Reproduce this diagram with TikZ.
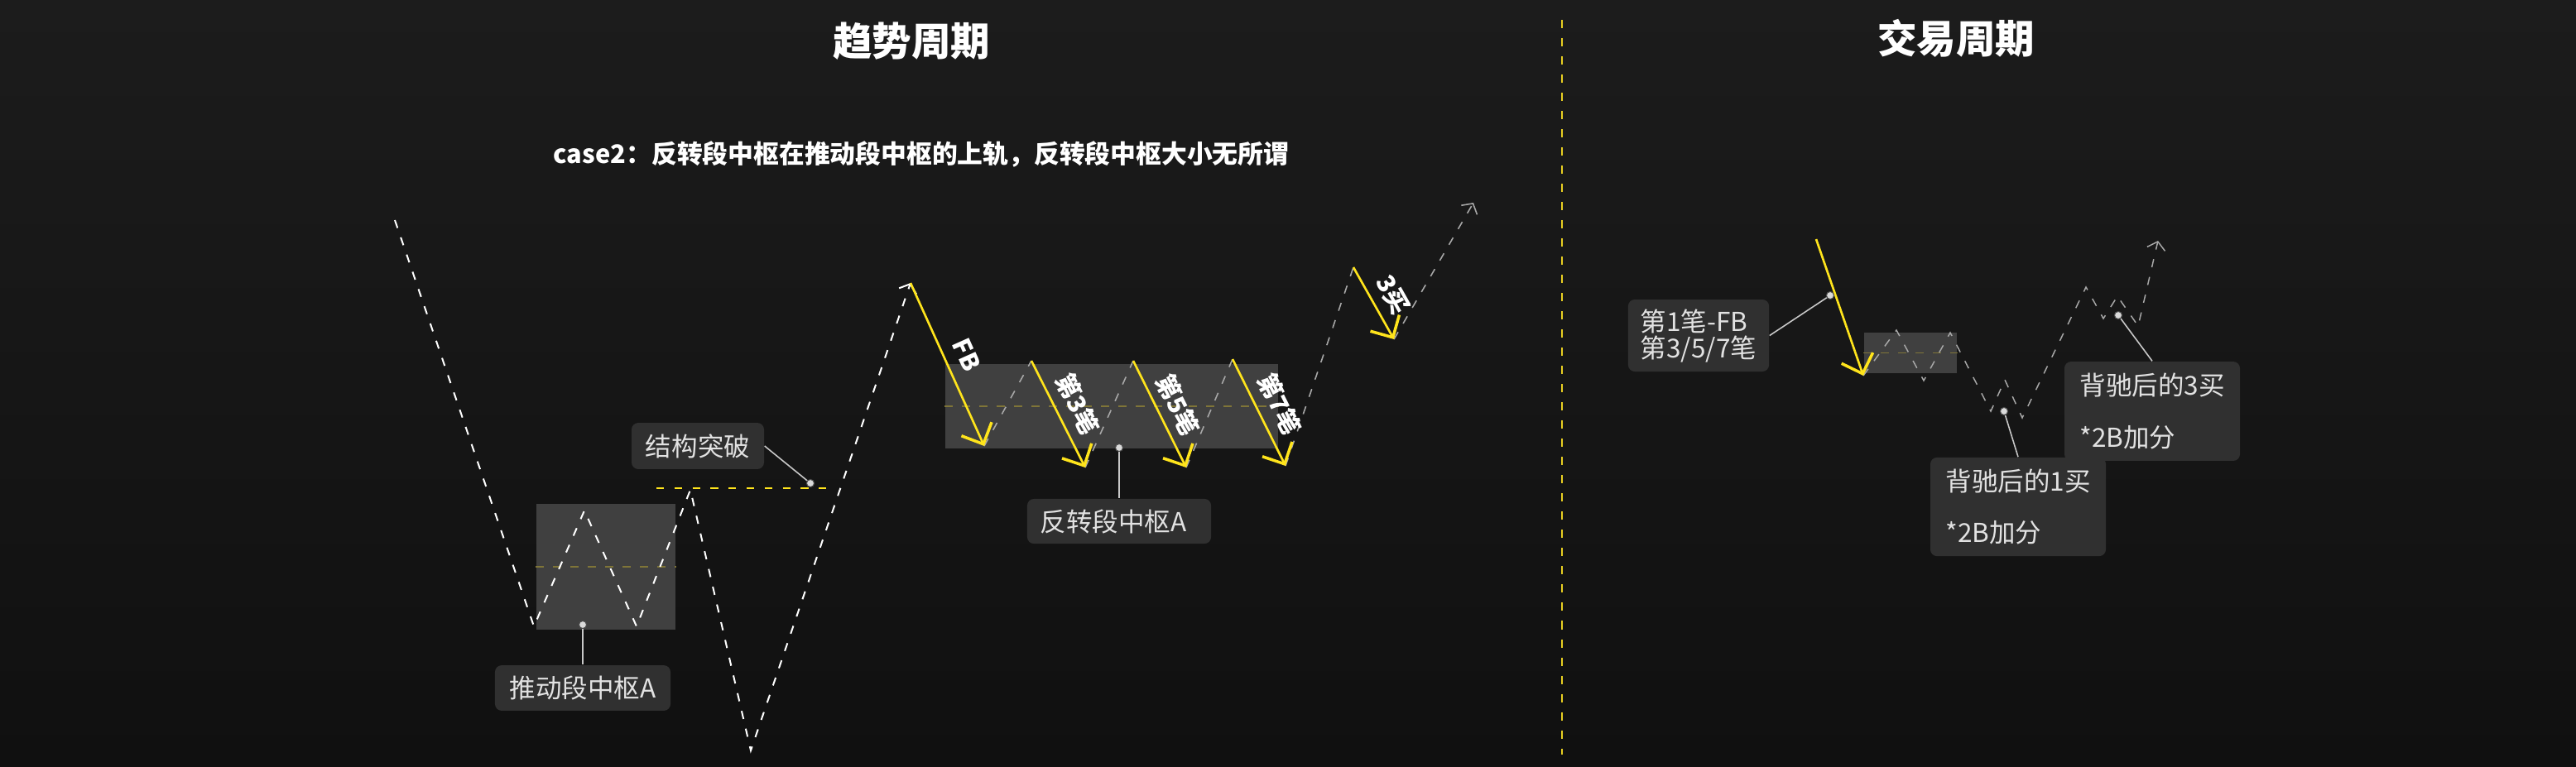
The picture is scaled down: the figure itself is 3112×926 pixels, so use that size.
\documentclass[tikz,border=0pt]{standalone}
\usepackage{fontspec}
\setmainfont{Noto Sans CJK SC}
\usetikzlibrary{arrows.meta}
\definecolor{bgtop}{HTML}{1C1C1C}
\definecolor{bgbot}{HTML}{101010}
\definecolor{zhong}{HTML}{404040}
\definecolor{olive}{HTML}{7F7538}
\definecolor{ylw}{HTML}{FFE41C}
\definecolor{divy}{HTML}{E8CF22}
\definecolor{lblfill}{HTML}{303030}
\definecolor{lbltext}{HTML}{E2E2E2}
\definecolor{dashgray}{HTML}{A8A8A8}
\definecolor{dotc}{HTML}{DADADA}
\definecolor{connc}{HTML}{C8C8C8}
\begin{document}
\begin{tikzpicture}[x=0.01cm,y=-0.01cm,
  wdash/.style={draw=white, line width=0.57pt, dash pattern=on 2.85pt off 3.41pt},
  gdash/.style={draw=dashgray, line width=0.45pt, dash pattern=on 2.85pt off 3.41pt},
  middash/.style={draw=olive, line width=0.5pt, dash pattern=on 2.85pt off 3.13pt},
  zs/.style={fill=zhong, draw=none, inner sep=0pt},
  yarrow/.style={draw=ylw, line width=0.75pt, -{Straight Barb[length=5.7pt,width=11.4pt,line width=1pt]}},
  endtip/.style={-{Straight Barb[length=2.6pt,width=6.3pt]}},
  lbl/.style={fill=lblfill, rounded corners=2.3pt, text=lbltext, font=\fontsize{8.96pt}{9.1pt}\selectfont, inner sep=0pt, align=center},
  lbltwo/.style={lbl, align=left},
  rlab/.style={text=white, font=\bfseries\fontsize{8.5pt}{8.5pt}\selectfont, inner sep=0pt},
  ttl/.style={text=white, font=\bfseries\fontsize{13.5pt}{13.5pt}\selectfont, inner sep=0pt},
  conn/.style={draw=connc, line width=0.45pt},
  dotst/.style={circle, fill=dotc, draw=black!70, line width=0.3pt, inner sep=0pt, minimum size=2.6pt},
]
% background
\fill[top color=bgtop, bottom color=bgbot] (0,0) rectangle (3112,926);
\useasboundingbox (0,0) rectangle (3112,926);

% titles
\node[ttl] (t1) at (1101,50) {趋势周期};
\node[ttl] (t2) at (2363,46) {交易周期};
\node[text=white, font=\bfseries\fontsize{8.76pt}{8.76pt}\selectfont, inner sep=0pt, anchor=west] (case) at (668,186) {case2：反转段中枢在推动段中枢的上轨，反转段中枢大小无所谓};

% divider
\coordinate (dvt) at (1887,24);
\coordinate (dvb) at (1887,912);
\draw[draw=divy, line width=0.57pt, dash pattern=on 2.85pt off 3.41pt] (dvt) -- (dvb);

% zhongshu boxes
\node[zs, minimum width=47.8pt, minimum height=43.2pt] (zA) at (732,685) {};
\draw[middash] (zA.west) -- (zA.east);
\node[zs, minimum width=114.4pt, minimum height=29.0pt] (zR) at (1343,491) {};
\draw[middash] (zR.west) -- (zR.east);
\node[zs, minimum width=31.9pt, minimum height=13.9pt] (zT) at (2308,426.5) {};
\draw[middash] (zT.west) -- (zT.east);

% structure breakout level
\coordinate (bkl) at (793,590);
\coordinate (bkr) at (1001,590);
\draw[draw=ylw, line width=0.5pt, dash pattern=on 2.6pt off 3.6pt] (bkl) -- (bkr);

% left zigzag
\coordinate (p0) at (477,266);
\coordinate (p1) at (645,757);
\coordinate (p2) at (706,617);
\coordinate (p3) at (769,757);
\coordinate (p4) at (834,592);
\coordinate (p5) at (907,907);
\coordinate (p6) at (1100,342);
\draw[wdash, endtip] (p0) -- (p1) -- (p2) -- (p3) -- (p4) -- (p5) -- (p6);

% reversal segment
\coordinate (f1) at (1189,539);
\coordinate (s3a) at (1246,436);
\coordinate (s3b) at (1311,565);
\coordinate (s5a) at (1369,436);
\coordinate (s5b) at (1433,565);
\coordinate (s7a) at (1489,434);
\coordinate (s7b) at (1553,563);
\coordinate (b3a) at (1635,323);
\coordinate (b3b) at (1684,410);
\coordinate (btop) at (1780,245);
\draw[gdash] (f1) -- (s3a);
\draw[gdash] (s3b) -- (s5a);
\draw[gdash] (s5b) -- (s7a);
\draw[gdash] (s7b) -- (b3a);
\draw[gdash, endtip] (b3b) -- (btop);
\draw[yarrow] (p6) -- (f1);
\draw[yarrow] (s3a) -- (s3b);
\draw[yarrow] (s5a) -- (s5b);
\draw[yarrow] (s7a) -- (s7b);
\draw[yarrow] (b3a) -- (b3b);
\node[rlab, rotate=-65.8] (lfb) at (1168,429) {FB};
\node[rlab, rotate=-63.3] (l3) at (1302,488) {第3笔};
\node[rlab, rotate=-63.3] (l5) at (1423,489) {第5笔};
\node[rlab, rotate=-63.3] (l7) at (1546,488) {第7笔};
\node[rlab, rotate=-60.6] (lb3) at (1683,356) {3买};

% right (trading cycle)
\coordinate (ya) at (2194,289);
\coordinate (r0) at (2251,454);
\coordinate (r1) at (2291,399);
\coordinate (r2) at (2324,460);
\coordinate (r3) at (2356,402);
\coordinate (r4) at (2405,497);
\coordinate (r5) at (2422,459);
\coordinate (r6) at (2443,505);
\coordinate (r7) at (2520,347);
\coordinate (r8) at (2541,385);
\coordinate (r9) at (2558,358);
\coordinate (r10) at (2583,394);
\coordinate (r11) at (2607,291);
\draw[gdash, line width=0.42pt, endtip] (r0) -- (r1) -- (r2) -- (r3) -- (r4) -- (r5) -- (r6) -- (r7) -- (r8) -- (r9) -- (r10) -- (r11);
\draw[yarrow] (ya) -- (r0);

% labels
\node[lbl, minimum width=60.3pt, minimum height=15.6pt] (LA) at (704,831.5) {推动段中枢A};
\node[lbl, minimum width=45.5pt, minimum height=15.9pt] (LS) at (843,539) {结构突破};
\node[lbl, align=left, text width=54.06pt, inner xsep=4.55pt, minimum height=15.4pt] (LR) at (1352,630) {反转段中枢A};
\node[lbltwo, minimum width=48.4pt, minimum height=24.75pt] (L1) at (2052,405.5) {第1笔-FB\\第3/5/7笔};
\node[lbltwo, minimum width=60.3pt, minimum height=34.1pt] (Lb3) at (2600,497) {背驰后的3买\\[8.8pt]*2B加分};
\node[lbltwo, minimum width=60.3pt, minimum height=33.9pt] (Lb1) at (2438,612.5) {背驰后的1买\\[8.8pt]*2B加分};

% dots and connectors
\node[dotst] (dA) at (704,755) {};
\node[dotst] (dS) at (979,584) {};
\node[dotst] (dR) at (1352,541) {};
\node[dotst] (d1) at (2211,357) {};
\node[dotst] (db1) at (2421,497) {};
\node[dotst] (db3) at (2559,381) {};
\draw[conn] (dA) -- (LA.north);
\draw[conn] (dS) -- (LS.east);
\draw[conn] (dR) -- (LR.north);
\draw[conn] (d1) -- (L1.east);
\draw[conn] (db1) -- (Lb1.north);
\draw[conn] (db3) -- (Lb3.north);
\end{tikzpicture}
\end{document}
